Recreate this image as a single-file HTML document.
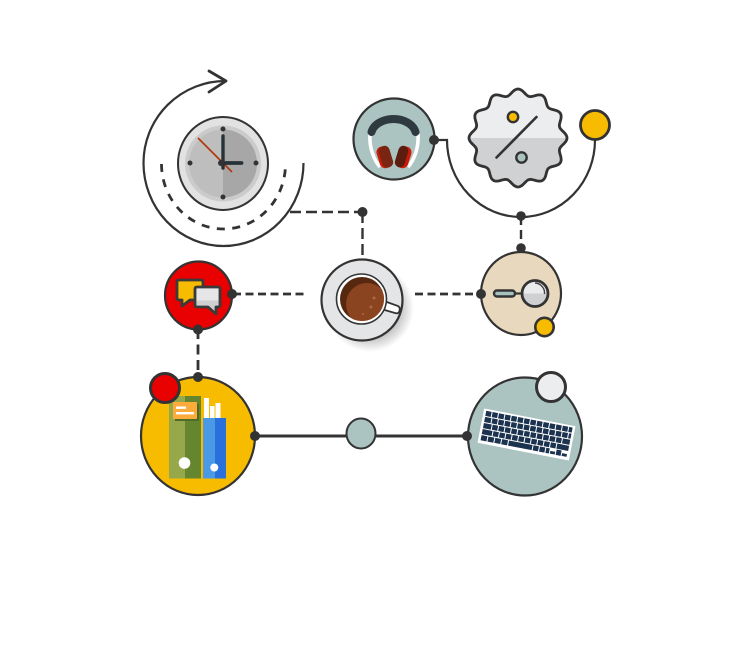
<!DOCTYPE html>
<html lang="en">
<head>
<meta charset="utf-8">
<title>Workspace icons infographic</title>
<style>
html,body{margin:0;padding:0;background:#fff;}
svg{display:block;}
</style>
</head>
<body>
<svg width="749" height="667" viewBox="0 0 749 667" xmlns="http://www.w3.org/2000/svg">
<defs>
<linearGradient id="badgeFill" x1="0" y1="0" x2="0" y2="1">
<stop offset="0.5" stop-color="#ecedef"/><stop offset="0.5" stop-color="#d0d1d3"/>
</linearGradient>
<linearGradient id="magFill" x1="0" y1="0" x2="0" y2="1">
<stop offset="0.5" stop-color="#eaebed"/><stop offset="0.5" stop-color="#cfd0d2"/>
</linearGradient>
<linearGradient id="chatFill" x1="0" y1="0" x2="0" y2="1">
<stop offset="0.5" stop-color="#e6e6e8"/><stop offset="0.5" stop-color="#cfcfd1"/>
</linearGradient>
<radialGradient id="shadowFill">
<stop offset="0.7" stop-color="#000" stop-opacity="0.22"/><stop offset="1" stop-color="#000" stop-opacity="0"/>
</radialGradient>
<clipPath id="coffeeClip"><circle cx="362" cy="299" r="22"/></clipPath>
</defs>

<!-- connectors -->
<g fill="none" stroke="#333">
<path d="M290 212H362" stroke-width="2.400" stroke-dasharray="11 5"/>
<path d="M362.500 212V259" stroke-width="2.400" stroke-dasharray="11 5"/>
<path d="M233 294H305" stroke-width="2.800" stroke-dasharray="8 4.500"/>
<path d="M415 294H481" stroke-width="2.800" stroke-dasharray="8 4.500"/>
<path d="M198 329V377" stroke-width="2.800" stroke-dasharray="10 5.500"/>
<path d="M521 216V248" stroke-width="2.400" stroke-dasharray="9 5"/>
<path d="M255 436H467" stroke-width="3"/>
<path d="M434 140H447A74 77 0 0 0 595 140" stroke-width="2.200"/>
</g>

<!-- clock -->
<g>
<path d="M303.500 163A80 83 0 1 1 143.500 163A82 82 0 0 1 226 81" fill="none" stroke="#333" stroke-width="2.200"/>
<path d="M209 71L226 81L209 92" fill="none" stroke="#333" stroke-width="2.800" stroke-linecap="round" stroke-linejoin="round"/>
<path d="M161.500 164A62 65 0 0 0 285.500 164" fill="none" stroke="#333" stroke-width="2.800" stroke-dasharray="8 7.500"/>
<ellipse cx="223" cy="163.500" rx="45" ry="46.500" fill="#e2e2e2" stroke="#333" stroke-width="2"/>
<circle cx="223" cy="163.500" r="38" fill="#cbcbcb"/>
<path d="M223 129.500A34 34 0 0 0 223 197.500Z" fill="#bebebe"/>
<path d="M223 129.500A34 34 0 0 1 223 197.500Z" fill="#a7a7a7"/>
<g fill="#333">
<circle cx="223" cy="129" r="2.500"/><circle cx="223" cy="197" r="2.500"/><circle cx="190" cy="163" r="2.500"/><circle cx="256" cy="163" r="2.500"/>
</g>
<line x1="198" y1="138" x2="232" y2="172" stroke="#b03a10" stroke-width="1.800"/>
<line x1="223" y1="136" x2="223" y2="168" stroke="#263238" stroke-width="3.400" stroke-linecap="round"/>
<line x1="221" y1="163" x2="241.500" y2="163" stroke="#263238" stroke-width="3.800" stroke-linecap="round"/>
<circle cx="221" cy="163" r="3" fill="#333"/>
</g>

<!-- headphones -->
<g>
<circle cx="394" cy="139" r="40.500" fill="#abc4c1" stroke="#333" stroke-width="2.200"/>
<path d="M370 134C369 148 374 160 380 167M418 134C419 148 414 160 408 167" fill="none" stroke="#fff" stroke-width="3.600"/>
<path d="M371.500 132A22.500 16.500 0 0 1 415.500 132" fill="none" stroke="#2f3a40" stroke-width="8" stroke-linecap="round"/>
<rect x="378" y="146" width="13" height="22" rx="5.500" transform="rotate(-17 385 157)" fill="#cc1a08"/>
<rect x="380.500" y="146" width="11" height="22" rx="5" transform="rotate(-17 385 157)" fill="#7a2412"/>
<rect x="397" y="146" width="13" height="22" rx="5.500" transform="rotate(17 403 157)" fill="#cc1a08"/>
<rect x="396.500" y="146" width="10" height="22" rx="5" transform="rotate(17 403 157)" fill="#5c1c0e"/>
</g>

<!-- badge -->
<g>
<path id="badgeShape" d="" fill="url(#badgeFill)" stroke="#333" stroke-width="2.800" stroke-linejoin="round"/>
<line x1="496.500" y1="157.500" x2="536.500" y2="117" stroke="#333" stroke-width="2.600" stroke-linecap="round"/>
<circle cx="513" cy="117" r="5.200" fill="#f7bb00" stroke="#333" stroke-width="2.400"/>
<circle cx="521.500" cy="157.500" r="5.200" fill="#abc4c1" stroke="#333" stroke-width="2.400"/>
<circle cx="595" cy="125" r="14.500" fill="#f7bb00" stroke="#333" stroke-width="2.800"/>
</g>

<!-- chat -->
<g>
<ellipse cx="198.500" cy="295.500" rx="33.500" ry="34" fill="#e90000" stroke="#333" stroke-width="2.200"/>
<path d="M179 280H201Q203 280 203 282V300H190L182 306V300H179Q177 300 177 298V282Q177 280 179 280Z" fill="#f7bb00" stroke="#3a3a3a" stroke-width="2.800" stroke-linejoin="round"/>
<path d="M197 287H218Q220 287 220 289V305Q220 307 218 307H216V314L208 307H197Q195 307 195 305V289Q195 287 197 287Z" fill="url(#chatFill)" stroke="#3a3a3a" stroke-width="2.800" stroke-linejoin="round"/>
</g>

<!-- coffee -->
<g>
<circle cx="370" cy="308" r="44" fill="url(#shadowFill)"/>
<circle cx="362" cy="300" r="40.500" fill="#e4e5e7" stroke="#333" stroke-width="2.200"/>
<path d="M384 301L398 306Q401 308 399 312Q398 314 395 313L381 309Z" fill="#fff" stroke="#333" stroke-width="1.800"/>
<circle cx="361.500" cy="299" r="25" fill="#fff" stroke="#333" stroke-width="1.600"/>
<circle cx="362" cy="299" r="22" fill="#572810"/>
<g clip-path="url(#coffeeClip)">
<circle cx="367" cy="304" r="21" fill="#8b4420"/>
<circle cx="374" cy="298" r="1.500" fill="#a86a48"/>
<circle cx="371" cy="307" r="1.500" fill="#a86a48"/>
<circle cx="363" cy="314" r="1" fill="#a86a48"/>
</g>
</g>

<!-- magnifier -->
<g>
<ellipse cx="521" cy="293.500" rx="40" ry="41.500" fill="#e8d8bd" stroke="#333" stroke-width="2.200"/>
<line x1="512" y1="293.500" x2="524" y2="293.500" stroke="#333" stroke-width="2.200"/>
<rect x="494" y="290.500" width="21" height="6" rx="3" fill="#a5c2bf" stroke="#333" stroke-width="2.400"/>
<circle cx="535" cy="293.500" r="13" fill="url(#magFill)" stroke="#333" stroke-width="2.800"/>
<path d="M535 283A10 10 0 0 1 544.500 294" fill="none" stroke="#444" stroke-width="1.400"/>
<circle cx="544.500" cy="327" r="9.200" fill="#f7bb00" stroke="#333" stroke-width="2.600"/>
</g>

<!-- books -->
<g>
<ellipse cx="198" cy="436" rx="57" ry="59" fill="#f7bb00" stroke="#333" stroke-width="2.200"/>
<rect x="169" y="396" width="16" height="82.500" fill="#97a84a"/>
<rect x="185" y="396" width="16" height="82.500" fill="#65862f"/>
<rect x="175" y="404" width="24" height="17" fill="#4f6b25"/>
<rect x="173" y="402" width="24" height="17" rx="1" fill="#fdac3c"/>
<rect x="176" y="406.500" width="10" height="2.400" fill="#fff"/>
<rect x="176" y="412" width="18" height="2.400" fill="#fff"/>
<circle cx="184.500" cy="463" r="5.800" fill="#fff"/>
<rect x="204" y="398" width="5" height="20" fill="#fff"/>
<rect x="210" y="406" width="4.500" height="12" fill="#fff"/>
<rect x="215.500" y="403" width="5" height="15" fill="#fff"/>
<rect x="203" y="418" width="12" height="60.500" fill="#4a99e6"/>
<rect x="215" y="418" width="11" height="60.500" fill="#2a70dc"/>
<circle cx="214.300" cy="467.500" r="4" fill="#fff"/>
<circle cx="165" cy="388" r="14.500" fill="#e90000" stroke="#333" stroke-width="3"/>
</g>

<!-- keyboard -->
<g>
<ellipse cx="525" cy="436.500" rx="57" ry="59" fill="#abc4c1" stroke="#333" stroke-width="2.200"/>
<g transform="rotate(11 526.500 434.500)">
<rect x="480" y="417" width="93" height="35" fill="#fff"/>
<g fill="none" stroke="#1c3350" stroke-width="5.200">
<line x1="482.500" y1="421.500" x2="570.500" y2="421.500" stroke-dasharray="5.500 1"/>
<line x1="482.500" y1="427.700" x2="570.500" y2="427.700" stroke-dasharray="6.500 1 5.500 1 5.500 1 5.500 1 5.500 1 5.500 1 5.500 1 5.500 1 5.500 1 5.500 1 5.500 1 5.500 1 5.500 1 6 0"/>
<line x1="482.500" y1="433.900" x2="570.500" y2="433.900" stroke-dasharray="8 1 5.500 1 5.500 1 5.500 1 5.500 1 5.500 1 5.500 1 5.500 1 5.500 1 5.500 1 5.500 1 5.500 1 8 0"/>
<line x1="482.500" y1="440.100" x2="570.500" y2="440.100" stroke-dasharray="10 1 5.500 1 5.500 1 5.500 1 5.500 1 5.500 1 5.500 1 5.500 1 5.500 1 5.500 1 5.500 1 12 0"/>
<line x1="482.500" y1="446.300" x2="552" y2="446.300" stroke-dasharray="6 1 6 1 6 1 6 1 24 1 5.500 1 5.500 1 5.500 40"/>
</g>
<rect x="553" y="446" width="5" height="2.800" fill="#1c3350"/>
<rect x="559" y="443.500" width="5" height="5.500" fill="#1c3350"/>
<rect x="565" y="446" width="5" height="2.800" fill="#1c3350"/>
</g>
<circle cx="551" cy="387" r="14.500" fill="#ecedef" stroke="#333" stroke-width="3"/>
</g>

<!-- middle connector node -->
<ellipse cx="361" cy="433.500" rx="14.500" ry="15" fill="#abc4c1" stroke="#333" stroke-width="2"/>

<!-- connector dots -->
<g fill="#333">
<circle cx="362.500" cy="212" r="5"/>
<circle cx="434" cy="140" r="5"/>
<circle cx="521" cy="216" r="4.800"/>
<circle cx="521" cy="248" r="4.800"/>
<circle cx="481" cy="294" r="5"/>
<circle cx="232" cy="294" r="5"/>
<circle cx="198" cy="329.500" r="5"/>
<circle cx="198" cy="377" r="5"/>
<circle cx="255" cy="436" r="5"/>
<circle cx="467" cy="436" r="5"/>
</g>
</svg>
<script>
var badgeBumps = 12;
var badgeCx = 518, badgeCy = 138, badgeRadius = 46, badgeWave = 3;
var badgePts = [];
for (var i = 0; i < 240; i++) {
  var a = i / 240 * Math.PI * 2 - Math.PI / 2;
  var r = badgeRadius + badgeWave * Math.cos(badgeBumps * (a + Math.PI / 2));
  badgePts.push((badgeCx + r * Math.cos(a)).toFixed(2) + ' ' + (badgeCy + r * Math.sin(a)).toFixed(2));
}
document.getElementById('badgeShape').setAttribute('d', 'M' + badgePts.join('L') + 'Z');
</script>
</body>
</html>
